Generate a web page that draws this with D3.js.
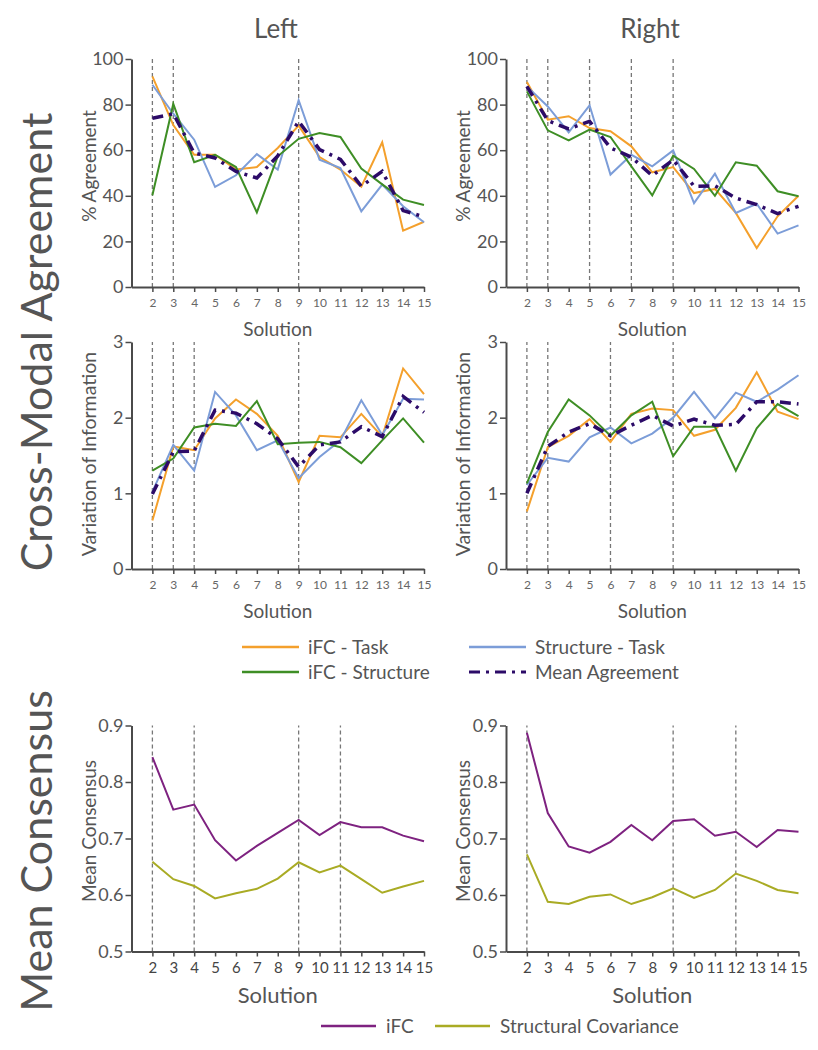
<!DOCTYPE html>
<html>
<head>
<meta charset="utf-8">
<script src="https://cdn.jsdelivr.net/npm/d3@7"></script>
<style>
  html, body { margin: 0; padding: 0; background: #fff; }
  svg { display: block; }
  text { font-family: Lato, "Open Sans", sans-serif; fill: #555; }
</style>
</head>
<body>
<svg id="chart" width="818" height="1050"></svg>
<script>
// ---------- data ----------
const solutions = [2,3,4,5,6,7,8,9,10,11,12,13,14,15];

const agreeLeftTask       = [92.4,71,58,58,51.5,52.6,61,70.8,57,51.5,44,63.5,24.7,28.6];
const agreeLeftStructTask = [88.7,76,64.6,43.9,49,58.3,51.5,81.9,55.8,52.2,33.2,44.9,35.4,28.4];
const agreeLeftIfcStruct  = [40.2,80.3,54.7,58,52.6,32.7,57.3,65,67.5,65.8,51.9,45,38.3,36];
const agreeLeftMean       = [74,76,58.8,56.6,50.7,47.8,57.5,72.7,60.3,56,44.2,50.7,33.5,30.8];

const agreeRightTask       = [89.9,73.4,74.9,69.7,68.3,61.7,50.3,52.6,41.2,43,32.5,17.1,31,40];
const agreeRightStructTask = [88,79.2,67.8,79.7,49.3,58,52.9,59.9,36.8,49.7,32.5,36.5,23.4,27];
const agreeRightIfcStruct  = [85.8,68.7,64.3,69,65.8,52.9,40.2,57.6,51.8,40,54.7,53.2,42,39.8];
const agreeRightMean       = [88,73,69.3,72.7,61,57,48.8,55.8,44.2,44.4,39,36.1,32.2,35.4];

const viLeftTask       = [0.64,1.62,1.57,1.99,2.24,2.05,1.76,1.15,1.76,1.74,2.05,1.75,2.65,2.31];
const viLeftStructTask = [1.02,1.64,1.30,2.34,2.03,1.57,1.70,1.20,1.48,1.70,2.23,1.77,2.25,2.24];
const viLeftIfcStruct  = [1.30,1.46,1.87,1.92,1.89,2.22,1.65,1.67,1.68,1.61,1.40,1.70,1.99,1.67];
const viLeftMean       = [0.99,1.55,1.56,2.10,2.06,1.92,1.72,1.35,1.64,1.68,1.88,1.75,2.28,2.07];

const viRightTask       = [0.76,1.61,1.76,1.98,1.68,2.05,2.12,2.10,1.76,1.84,2.13,2.60,2.08,1.98];
const viRightStructTask = [1.11,1.47,1.42,1.74,1.87,1.66,1.79,2.00,2.34,1.99,2.33,2.21,2.37,2.56];
const viRightIfcStruct  = [1.13,1.81,2.24,2.03,1.76,2.03,2.21,1.49,1.88,1.88,1.30,1.86,2.18,2.02];
const viRightMean       = [1.00,1.62,1.81,1.92,1.76,1.90,2.03,1.89,1.98,1.90,1.91,2.21,2.21,2.18];

const consLeftIfc  = [0.844,0.751,0.760,0.697,0.661,0.687,0.710,0.733,0.706,0.729,0.720,0.720,0.705,0.695];
const consLeftSC   = [0.659,0.628,0.616,0.594,0.603,0.611,0.629,0.658,0.640,0.652,0.628,0.604,0.615,0.625];
const consRightIfc = [0.887,0.745,0.686,0.675,0.694,0.724,0.697,0.731,0.734,0.705,0.712,0.685,0.715,0.712];
const consRightSC  = [0.672,0.588,0.584,0.597,0.601,0.584,0.596,0.612,0.595,0.609,0.638,0.625,0.609,0.603];

const markersAgreeLeft  = [2,3,9];
const markersAgreeRight = [2,3,5,7,9];
const markersViLeft     = [2,3,4,9];
const markersViRight    = [2,3,6,9];
const markersConsLeft   = [2,4,9,11];
const markersConsRight  = [2,9,12];

const agreeTicks = [0,20,40,60,80,100];
const viTicks    = [0,1,2,3];
const consTicks  = [0.5,0.6,0.7,0.8,0.9];

const agreementLabels = ["iFC - Task","Structure - Task","iFC - Structure","Mean Agreement"];
const consensusLabels = ["iFC","Structural Covariance"];

// ---------- styles ----------
const C = {
  task: "#F4A02C", struct: "#7C9DD8", ifcs: "#3E8E25", mean: "#2C0B68",
  ifc: "#7E2280", sc: "#A9AB24", axis: "#4a4a4a", dash: "#777"
};
const meanDash = "11,6,3,6";

const svg = d3.select("#chart");

const colLeft  = [131.5, 424];
const colRight = [506, 798.5];

function panel(opts) {
  const x = d3.scaleLinear().domain([1,15]).range(opts.xr);
  const y = d3.scaleLinear().domain(opts.ydom).range(opts.yr);
  const g = svg.append("g");

  // dashed markers
  g.selectAll("line.mk").data(opts.markers).join("line")
    .attr("x1", d => x(d)).attr("x2", d => x(d))
    .attr("y1", y(opts.ydom[0])).attr("y2", y(opts.ydom[1]))
    .attr("stroke", C.dash).attr("stroke-width", 1.3).attr("stroke-dasharray", "4,3");

  // series
  const line = d3.line().x((d,i) => x(solutions[i])).y(d => y(d));
  opts.series.forEach(s => {
    g.append("path").datum(s.values)
      .attr("d", line).attr("fill", "none")
      .attr("stroke", s.color).attr("stroke-width", s.width || 2)
      .attr("stroke-linejoin", "miter")
      .attr("stroke-dasharray", s.dash || null);
  });

  // axes
  const xa = g.append("g").attr("transform", `translate(0,${y(opts.ydom[0])})`)
    .call(d3.axisBottom(x).tickValues(solutions).tickSizeOuter(0).tickSizeInner(5).tickPadding(opts.xPad));
  xa.select(".domain").attr("stroke", C.axis).attr("stroke-width", 2);
  xa.selectAll(".tick line").attr("stroke", C.axis).attr("stroke-width", 1.5);
  xa.selectAll(".tick text").style("font-size", opts.xFont + "px").style("fill", opts.xColor)
    .style("font-family", "Lato, sans-serif");

  const ya = g.append("g").attr("transform", `translate(${opts.xr[0]},0)`)
    .call(d3.axisLeft(y).tickValues(opts.yticks).tickSizeOuter(0).tickSizeInner(6).tickPadding(2)
      .tickFormat(opts.yfmt));
  ya.select(".domain").attr("stroke", C.axis).attr("stroke-width", 2);
  ya.selectAll(".tick line").attr("stroke", C.axis).attr("stroke-width", 1.5);
  ya.selectAll(".tick text").style("font-size", "18px").style("fill", "#555")
    .style("font-family", "Lato, sans-serif");

  // x title
  g.append("text").attr("x", (opts.xr[0] + opts.xr[1]) / 2).attr("y", opts.xTitleY)
    .attr("text-anchor", "middle").style("font-size", opts.xTitleFont + "px").text("Solution");
  // y title
  g.append("text")
    .attr("transform", `translate(${opts.xr[0] - 36},${opts.yTitleC}) rotate(-90)`)
    .attr("text-anchor", "middle").style("font-size", opts.yTitleFont + "px")
    .text(opts.ytitle);
}

function agreementSeries(t, s, i, m) {
  return [
    {values: t, color: C.task},
    {values: s, color: C.struct},
    {values: i, color: C.ifcs},
    {values: m, color: C.mean, width: 3.5, dash: meanDash}
  ];
}

const topCommon = {ydom: [0,100], yr: [287, 59], yticks: agreeTicks, yfmt: d3.format("d"),
  ytitle: "% Agreement", yTitleFont: 19, yTitleC: 166,
  xFont: 12, xColor: "#666", xPad: 6, xTitleY: 336, xTitleFont: 19};
panel(Object.assign({}, topCommon, {xr: colLeft, markers: markersAgreeLeft,
  series: agreementSeries(agreeLeftTask, agreeLeftStructTask, agreeLeftIfcStruct, agreeLeftMean)}));
panel(Object.assign({}, topCommon, {xr: colRight, markers: markersAgreeRight,
  series: agreementSeries(agreeRightTask, agreeRightStructTask, agreeRightIfcStruct, agreeRightMean)}));

const midCommon = {ydom: [0,3], yr: [569, 342], yticks: viTicks, yfmt: d3.format("d"),
  ytitle: "Variation of Information", yTitleFont: 19.5, yTitleC: 454,
  xFont: 12, xColor: "#666", xPad: 6, xTitleY: 618, xTitleFont: 19};
panel(Object.assign({}, midCommon, {xr: colLeft, markers: markersViLeft,
  series: agreementSeries(viLeftTask, viLeftStructTask, viLeftIfcStruct, viLeftMean)}));
panel(Object.assign({}, midCommon, {xr: colRight, markers: markersViRight,
  series: agreementSeries(viRightTask, viRightStructTask, viRightIfcStruct, viRightMean)}));

const botCommon = {ydom: [0.5,0.9], yr: [951.5, 725.5], yticks: consTicks, yfmt: d3.format(".1f"),
  ytitle: "Mean Consensus", yTitleFont: 19, yTitleC: 831,
  xFont: 15, xColor: "#444", xPad: 6, xTitleY: 1003, xTitleFont: 22};
panel(Object.assign({}, botCommon, {xr: colLeft, markers: markersConsLeft,
  series: [{values: consLeftIfc, color: C.ifc}, {values: consLeftSC, color: C.sc}]}));
panel(Object.assign({}, botCommon, {xr: colRight, markers: markersConsRight,
  series: [{values: consRightIfc, color: C.ifc}, {values: consRightSC, color: C.sc}]}));

// column titles
svg.append("text").attr("x", 276).attr("y", 38).attr("text-anchor", "middle")
  .style("font-size", "26px").text("Left");
svg.append("text").attr("x", 650).attr("y", 38).attr("text-anchor", "middle")
  .style("font-size", "26px").text("Right");

// big row titles
svg.append("text").attr("transform", "translate(52,342) rotate(-90)").attr("text-anchor", "middle")
  .style("font-size", "43px").text("Cross-Modal Agreement");
svg.append("text").attr("transform", "translate(52,851) rotate(-90)").attr("text-anchor", "middle")
  .style("font-size", "43px").text("Mean Consensus");

// agreement legend
const legAgree = [
  {label: agreementLabels[0], color: C.task, x: 242, y: 647},
  {label: agreementLabels[1], color: C.struct, x: 469, y: 647},
  {label: agreementLabels[2], color: C.ifcs, x: 242, y: 672},
  {label: agreementLabels[3], color: C.mean, x: 469, y: 672, dash: "11,6,3,6", w: 3}
];
const lg = svg.append("g");
legAgree.forEach(d => {
  lg.append("line").attr("x1", d.x).attr("x2", d.x + 57).attr("y1", d.y).attr("y2", d.y)
    .attr("stroke", d.color).attr("stroke-width", d.w || 2.5).attr("stroke-dasharray", d.dash || null);
  lg.append("text").attr("x", d.x + 66).attr("y", d.y + 7).style("font-size", "19px").text(d.label);
});

// consensus legend
const legCons = [
  {label: consensusLabels[0], color: C.ifc, x: 321},
  {label: consensusLabels[1], color: C.sc, x: 435}
];
legCons.forEach(d => {
  lg.append("line").attr("x1", d.x).attr("x2", d.x + 55).attr("y1", 1026).attr("y2", 1026)
    .attr("stroke", d.color).attr("stroke-width", 2.5);
  lg.append("text").attr("x", d.x + 65).attr("y", 1033).style("font-size", "19px").text(d.label);
});
</script>
</body>
</html>
